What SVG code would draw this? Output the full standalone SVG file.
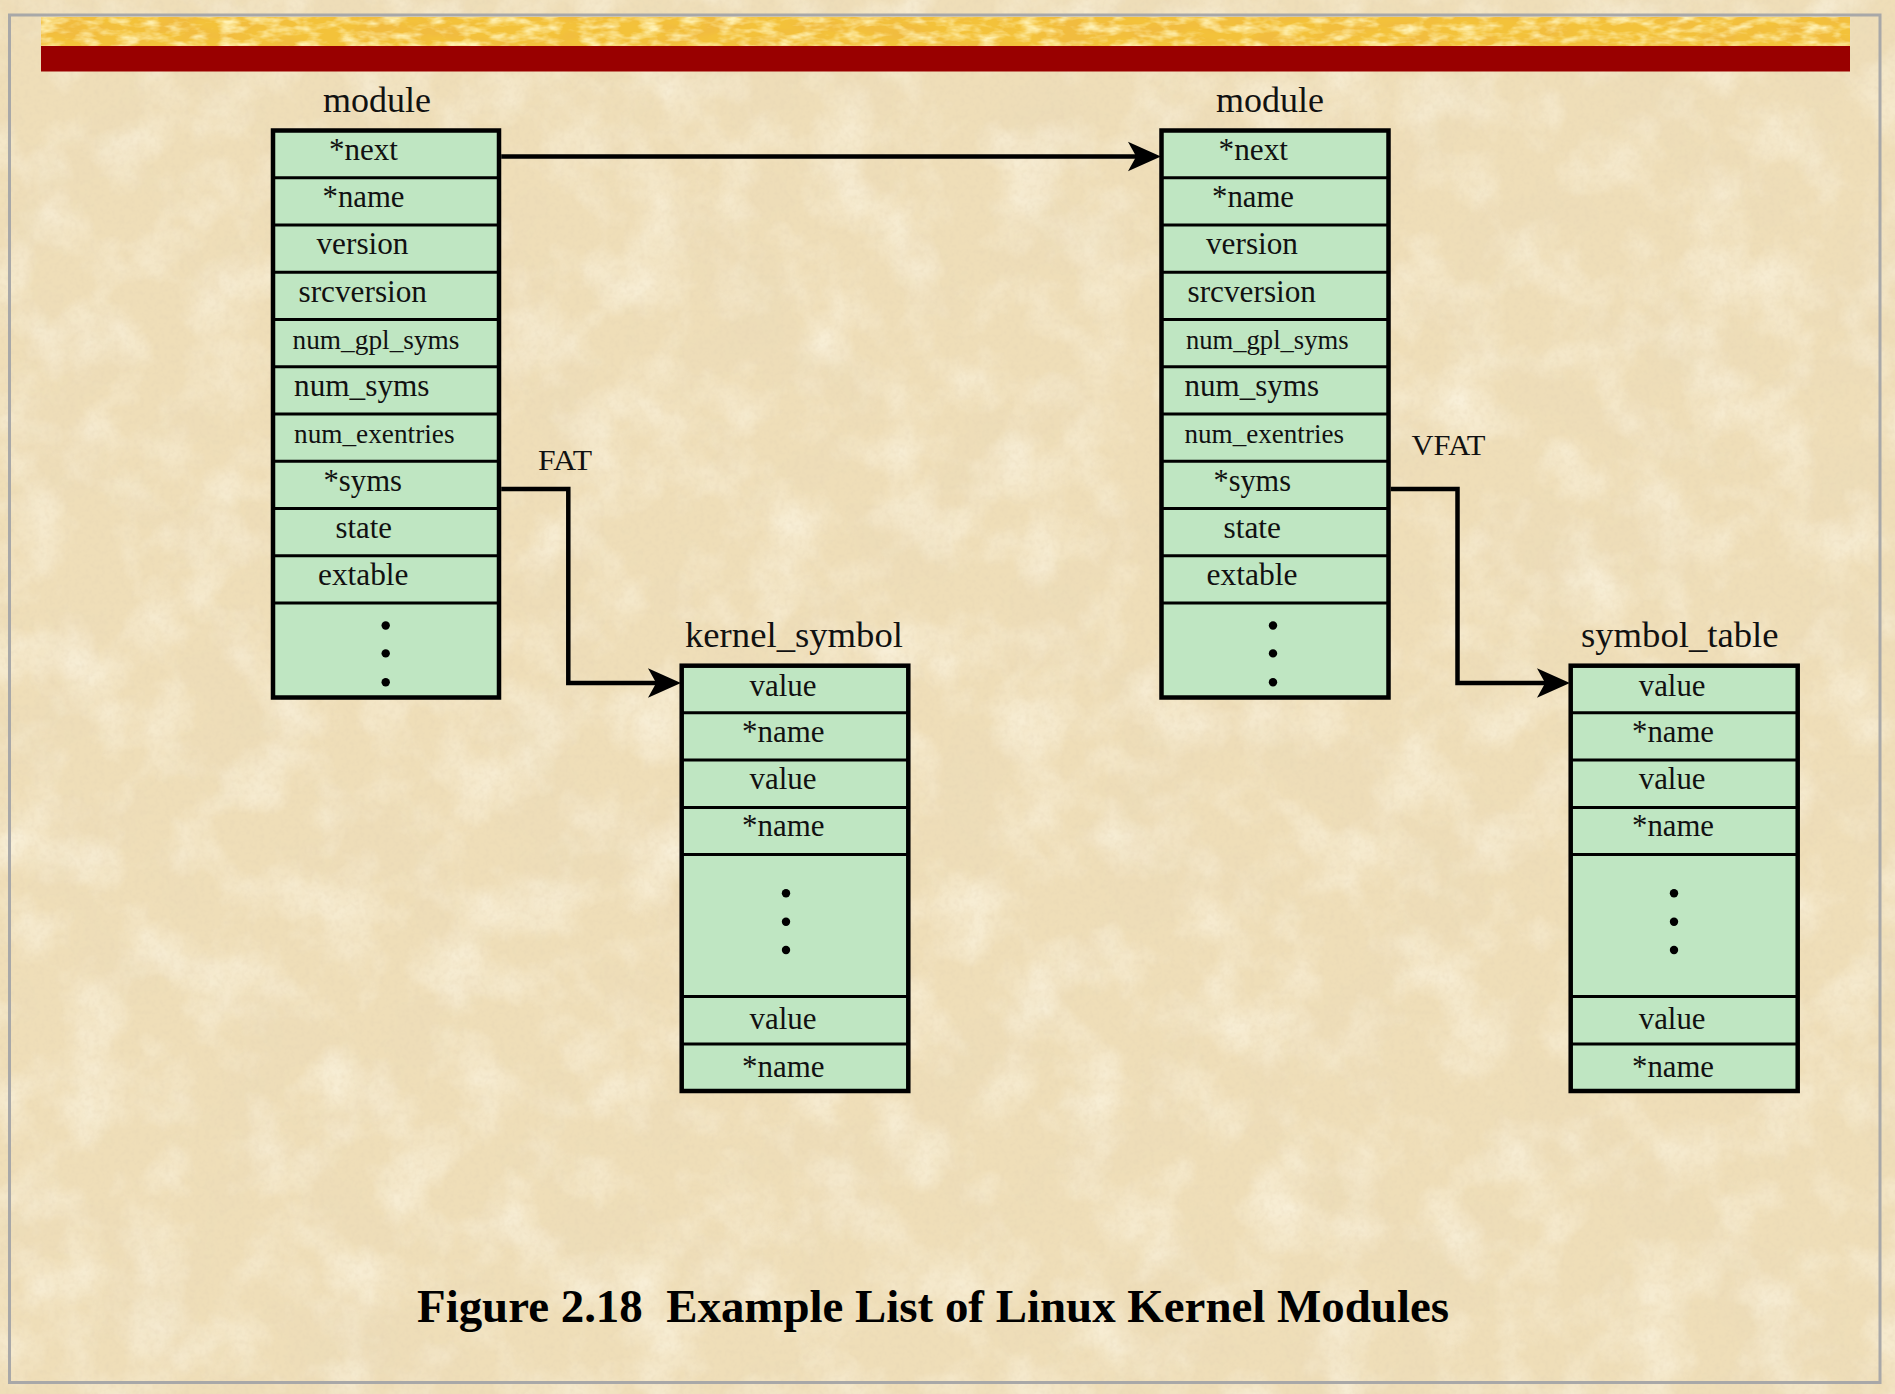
<svg xmlns="http://www.w3.org/2000/svg" width="1895" height="1394" viewBox="0 0 1895 1394">
<defs>
<style>
.box{fill:#BFE6C2;stroke:#000;stroke-width:4.5}
.sep{stroke:#000;stroke-width:3}
.t{font-family:"Liberation Serif","Times New Roman",serif;font-size:31px;fill:#111}
.s{font-size:28px}
.lbl{font-family:"Liberation Serif","Times New Roman",serif;font-size:36px;fill:#111}
.cl{font-family:"Liberation Serif","Times New Roman",serif;font-size:29px;fill:#111}
.dot{fill:#000}
.wire{fill:none;stroke:#000;stroke-width:4.5;stroke-linejoin:miter}
.title{font-family:"Liberation Serif","Times New Roman",serif;font-size:46px;font-weight:bold;fill:#000}
</style>
<filter id="dark" x="0" y="0" width="1895" height="1394" filterUnits="userSpaceOnUse">
<feTurbulence type="fractalNoise" baseFrequency="0.01" numOctaves="5" seed="7"/>
<feColorMatrix type="matrix" values="0 0 0 0 0.82  0 0 0 0 0.70  0 0 0 0 0.48  1.1 0 0 0 -0.5"/>
</filter>
<filter id="light" x="0" y="0" width="1895" height="1394" filterUnits="userSpaceOnUse">
<feTurbulence type="fractalNoise" baseFrequency="0.016" numOctaves="4" seed="21"/>
<feColorMatrix type="matrix" values="0 0 0 0 1  0 0 0 0 0.97  0 0 0 0 0.86  0 1.2 0 0 -0.52"/>
</filter>
<filter id="grain" x="0" y="0" width="1895" height="1394" filterUnits="userSpaceOnUse">
<feTurbulence type="fractalNoise" baseFrequency="0.2" numOctaves="2" seed="4"/>
<feColorMatrix type="matrix" values="0 0 0 0 0.75  0 0 0 0 0.63  0 0 0 0 0.45  0.6 0 0 0 -0.26"/>
</filter>
<filter id="gold" x="41" y="17" width="1809" height="29" filterUnits="userSpaceOnUse">
<feTurbulence type="fractalNoise" baseFrequency="0.02 0.05" numOctaves="4" seed="11"/>
<feColorMatrix type="matrix" values="0 0 0 0 0.88  0 0 0 0 0.50  0 0 0 0 0.05  3.2 0 0 0 -1.3"/>
</filter>
<filter id="goldlight" x="41" y="17" width="1809" height="29" filterUnits="userSpaceOnUse">
<feTurbulence type="fractalNoise" baseFrequency="0.05 0.12" numOctaves="3" seed="5"/>
<feColorMatrix type="matrix" values="0 0 0 0 1  0 0 0 0 0.88  0 0 0 0 0.45  0 2.4 0 0 -1.0"/>
</filter>
<marker id="arr" markerUnits="userSpaceOnUse" markerWidth="40" markerHeight="40" viewBox="-2 -16 34 32" refX="20" refY="0" orient="auto">
<path d="M0,-12.5 L28,0 L0,12.5 L7,0 Z" fill="#000"/>
</marker>
</defs>

<!-- parchment background -->
<rect x="0" y="0" width="1895" height="1394" fill="#EFDEB8"/>
<rect x="0" y="0" width="1895" height="1394" filter="url(#dark)"/>
<rect x="0" y="0" width="1895" height="1394" filter="url(#light)"/>
<rect x="0" y="0" width="1895" height="1394" filter="url(#grain)"/>

<!-- frame and banner -->
<rect x="9.5" y="15" width="1870.5" height="1367.5" fill="none" stroke="#A8A8A8" stroke-width="3"/>
<rect x="41" y="17" width="1809" height="29" fill="#F3C23A"/>
<rect x="41" y="17" width="1809" height="29" filter="url(#gold)"/>
<rect x="41" y="17" width="1809" height="29" filter="url(#goldlight)"/>
<rect x="41" y="46" width="1809" height="25.5" fill="#990000"/>

<!-- module 1 -->
<g id="module1">
<text class="lbl" x="377" y="111.7" text-anchor="middle">module</text>
<rect class="box" x="273" y="130.5" width="226" height="567"/>
<g class="sep">
<line x1="273" y1="177.75" x2="499" y2="177.75"/>
<line x1="273" y1="225" x2="499" y2="225"/>
<line x1="273" y1="272.25" x2="499" y2="272.25"/>
<line x1="273" y1="319.5" x2="499" y2="319.5"/>
<line x1="273" y1="366.75" x2="499" y2="366.75"/>
<line x1="273" y1="414" x2="499" y2="414"/>
<line x1="273" y1="461.25" x2="499" y2="461.25"/>
<line x1="273" y1="508.5" x2="499" y2="508.5"/>
<line x1="273" y1="555.75" x2="499" y2="555.75"/>
<line x1="273" y1="603" x2="499" y2="603"/>
</g>
<text class="t" x="329" y="159.8" textLength="69" lengthAdjust="spacingAndGlyphs">*next</text>
<text class="t" x="322.5" y="207" textLength="82" lengthAdjust="spacingAndGlyphs">*name</text>
<text class="t" x="316.5" y="254.3" textLength="92" lengthAdjust="spacingAndGlyphs">version</text>
<text class="t" x="298.5" y="301.5" textLength="128.5" lengthAdjust="spacingAndGlyphs">srcversion</text>
<text class="t s" x="292.5" y="348.8" textLength="167" lengthAdjust="spacingAndGlyphs">num_gpl_syms</text>
<text class="t" x="294" y="396" textLength="135.5" lengthAdjust="spacingAndGlyphs">num_syms</text>
<text class="t s" x="294" y="443.3" textLength="160.5" lengthAdjust="spacingAndGlyphs">num_exentries</text>
<text class="t" x="323.5" y="490.5" textLength="78.5" lengthAdjust="spacingAndGlyphs">*syms</text>
<text class="t" x="335.5" y="537.8" textLength="56.5" lengthAdjust="spacingAndGlyphs">state</text>
<text class="t" x="318" y="585" textLength="90.5" lengthAdjust="spacingAndGlyphs">extable</text>
<circle class="dot" cx="385.7" cy="625.5" r="4.2"/>
<circle class="dot" cx="385.7" cy="653.4" r="4.2"/>
<circle class="dot" cx="385.7" cy="682.2" r="4.2"/>
</g>

<!-- module 2 -->
<g id="module2">
<text class="lbl" x="1270" y="111.7" text-anchor="middle">module</text>
<rect class="box" x="1161.5" y="130.5" width="227" height="567"/>
<g class="sep">
<line x1="1161.5" y1="177.75" x2="1388.5" y2="177.75"/>
<line x1="1161.5" y1="225" x2="1388.5" y2="225"/>
<line x1="1161.5" y1="272.25" x2="1388.5" y2="272.25"/>
<line x1="1161.5" y1="319.5" x2="1388.5" y2="319.5"/>
<line x1="1161.5" y1="366.75" x2="1388.5" y2="366.75"/>
<line x1="1161.5" y1="414" x2="1388.5" y2="414"/>
<line x1="1161.5" y1="461.25" x2="1388.5" y2="461.25"/>
<line x1="1161.5" y1="508.5" x2="1388.5" y2="508.5"/>
<line x1="1161.5" y1="555.75" x2="1388.5" y2="555.75"/>
<line x1="1161.5" y1="603" x2="1388.5" y2="603"/>
</g>
<text class="t" x="1218.5" y="159.8" textLength="69.5" lengthAdjust="spacingAndGlyphs">*next</text>
<text class="t" x="1212" y="207" textLength="82" lengthAdjust="spacingAndGlyphs">*name</text>
<text class="t" x="1206" y="254.3" textLength="92" lengthAdjust="spacingAndGlyphs">version</text>
<text class="t" x="1187.5" y="301.5" textLength="128.5" lengthAdjust="spacingAndGlyphs">srcversion</text>
<text class="t s" x="1186" y="348.8" textLength="162.5" lengthAdjust="spacingAndGlyphs">num_gpl_syms</text>
<text class="t" x="1184.5" y="396" textLength="134.5" lengthAdjust="spacingAndGlyphs">num_syms</text>
<text class="t s" x="1184.5" y="443.3" textLength="159.5" lengthAdjust="spacingAndGlyphs">num_exentries</text>
<text class="t" x="1213.5" y="490.5" textLength="77.5" lengthAdjust="spacingAndGlyphs">*syms</text>
<text class="t" x="1223.5" y="537.8" textLength="57.5" lengthAdjust="spacingAndGlyphs">state</text>
<text class="t" x="1206.5" y="585" textLength="91" lengthAdjust="spacingAndGlyphs">extable</text>
<circle class="dot" cx="1273" cy="625.5" r="4.2"/>
<circle class="dot" cx="1273" cy="653.4" r="4.2"/>
<circle class="dot" cx="1273" cy="682.2" r="4.2"/>
</g>

<!-- kernel_symbol -->
<g id="kernel_symbol">
<text class="lbl" x="685" y="647" textLength="218" lengthAdjust="spacingAndGlyphs">kernel_symbol</text>
<rect class="box" x="681.7" y="665.7" width="226.6" height="425.3"/>
<g class="sep">
<line x1="681.7" y1="712.8" x2="908.3" y2="712.8"/>
<line x1="681.7" y1="760.1" x2="908.3" y2="760.1"/>
<line x1="681.7" y1="807.4" x2="908.3" y2="807.4"/>
<line x1="681.7" y1="854.5" x2="908.3" y2="854.5"/>
<line x1="681.7" y1="996.6" x2="908.3" y2="996.6"/>
<line x1="681.7" y1="1044" x2="908.3" y2="1044"/>
</g>
<text class="t" x="749.5" y="695.7" textLength="67" lengthAdjust="spacingAndGlyphs">value</text>
<text class="t" x="742" y="741.7" textLength="82.5" lengthAdjust="spacingAndGlyphs">*name</text>
<text class="t" x="749.5" y="789.3" textLength="67" lengthAdjust="spacingAndGlyphs">value</text>
<text class="t" x="742" y="835.7" textLength="82.5" lengthAdjust="spacingAndGlyphs">*name</text>
<circle class="dot" cx="786" cy="893.3" r="4.2"/>
<circle class="dot" cx="786" cy="921.7" r="4.2"/>
<circle class="dot" cx="786" cy="950" r="4.2"/>
<text class="t" x="749.5" y="1029.3" textLength="67" lengthAdjust="spacingAndGlyphs">value</text>
<text class="t" x="742" y="1076.7" textLength="82.5" lengthAdjust="spacingAndGlyphs">*name</text>
</g>

<!-- symbol_table -->
<g id="symbol_table">
<text class="lbl" x="1581" y="647" textLength="197.5" lengthAdjust="spacingAndGlyphs">symbol_table</text>
<rect class="box" x="1570.7" y="665.7" width="227" height="425.3"/>
<g class="sep">
<line x1="1570.7" y1="712.8" x2="1797.7" y2="712.8"/>
<line x1="1570.7" y1="760.1" x2="1797.7" y2="760.1"/>
<line x1="1570.7" y1="807.4" x2="1797.7" y2="807.4"/>
<line x1="1570.7" y1="854.5" x2="1797.7" y2="854.5"/>
<line x1="1570.7" y1="996.6" x2="1797.7" y2="996.6"/>
<line x1="1570.7" y1="1044" x2="1797.7" y2="1044"/>
</g>
<text class="t" x="1638.8" y="695.7" textLength="66.7" lengthAdjust="spacingAndGlyphs">value</text>
<text class="t" x="1632" y="741.7" textLength="82" lengthAdjust="spacingAndGlyphs">*name</text>
<text class="t" x="1638.8" y="789.3" textLength="66.7" lengthAdjust="spacingAndGlyphs">value</text>
<text class="t" x="1632" y="835.7" textLength="82" lengthAdjust="spacingAndGlyphs">*name</text>
<circle class="dot" cx="1674" cy="893.3" r="4.2"/>
<circle class="dot" cx="1674" cy="921.7" r="4.2"/>
<circle class="dot" cx="1674" cy="950" r="4.2"/>
<text class="t" x="1638.8" y="1029.3" textLength="66.7" lengthAdjust="spacingAndGlyphs">value</text>
<text class="t" x="1632" y="1076.7" textLength="82" lengthAdjust="spacingAndGlyphs">*name</text>
</g>

<!-- connectors -->
<g id="connectors">
<path class="wire" d="M501.2,156.5 H1151.5" marker-end="url(#arr)"/>
<path class="wire" d="M501.2,489 H568.3 V683 H671.5" marker-end="url(#arr)"/>
<path class="wire" d="M1390.7,489 H1457.5 V683 H1560.5" marker-end="url(#arr)"/>
<text class="cl" x="538" y="469.7" textLength="54" lengthAdjust="spacingAndGlyphs">FAT</text>
<text class="cl" x="1411.5" y="455" textLength="74" lengthAdjust="spacingAndGlyphs">VFAT</text>
</g>

<!-- caption -->
<text class="title" x="417" y="1321.7" textLength="1032" lengthAdjust="spacingAndGlyphs">Figure 2.18&#160; Example List of Linux Kernel Modules</text>
</svg>
